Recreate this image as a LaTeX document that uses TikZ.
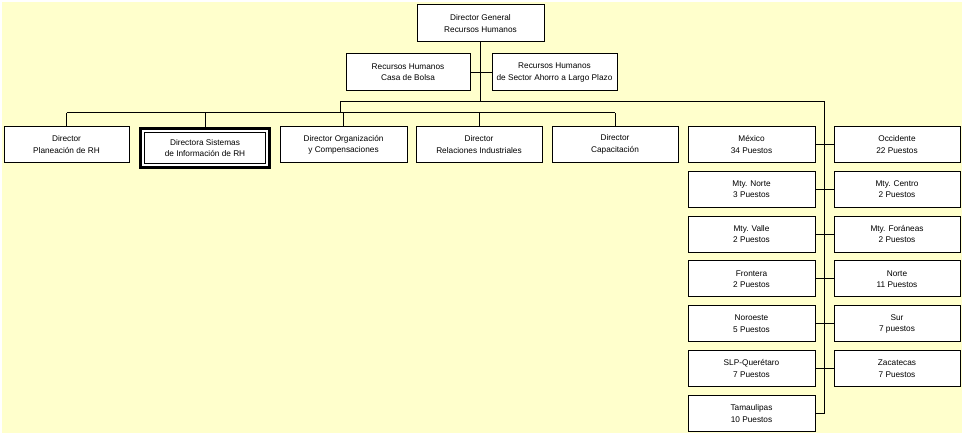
\documentclass[tikz,border=0pt]{standalone}
\usepackage{fontspec}
\setmainfont{Liberation Sans}
\usetikzlibrary{calc}

\definecolor{fondo}{HTML}{FFFFCC}

\tikzset{
    caja/.style={draw, fill=white, outer sep=0pt, inner sep=1pt, align=center,
        minimum width=#1*0.75pt, minimum height=26.5pt,
        font=\fontsize{6.2}{8.5}\selectfont},
}

\begin{document}
\begin{tikzpicture}[x=0.75pt, y=-0.75pt, line width=0.75pt]

    \useasboundingbox (0,0) rectangle (967,438);
    \fill[fondo] (2,2) rectangle (962,433);

    % -- Parte Superiore: Direccion General --
    \node[caja=127, minimum height=27.75pt] (dg) at (480.5,23.5) {Director General\\Recursos Humanos};
    \node[caja=124, minimum height=27.75pt] (casa) at (408,72.5) {Recursos Humanos\\Casa de Bolsa};
    \node[caja=125, minimum height=27.75pt] (sector) at (554.5,72.5) {Recursos Humanos\\de Sector Ahorro a Largo Plazo};

    \coordinate (b1) at (340,102);
    \coordinate (b1e) at (824,102);
    \coordinate (b2) at (340,113);

    \draw (dg.south) -- (dg.south |- b1);
    \draw (casa.east) -- (sector.west);

    % -- Directores --
    \node[caja=125] (planea) at (66.5,144.5) {Director\\Planeación de RH};
    \node[caja=128.7, minimum height=29pt, line width=2.25pt] (sistemas) at (205,148) {Directora Sistemas\\de Información de RH};
    \draw ($(sistemas.north west)+(3.6,3.4)$) rectangle ($(sistemas.south east)+(-3.6,-3.4)$);
    \node[caja=127] (organiza) at (343.5,144.5) {Director Organización\\y Compensaciones};
    \node[caja=126] (relac) at (479,144.5) {Director\\Relaciones Industriales};
    \node[caja=126] (capac) at (615,144.5) {Director\\Capacitación};

    \draw (b1) -- (b2);
    \draw (planea.north |- b2) -- (capac.north |- b2);
    \foreach \n in {planea,sistemas,organiza,relac,capac}
        \draw (\n.north |- b2) -- (\n.north);

    % -- Parte Destra: Regiones --
    \foreach \txt [count=\i] in {{México\\34 Puestos}, {Mty. Norte\\3 Puestos},
            {Mty. Valle\\2 Puestos}, {Frontera\\2 Puestos}, {Noroeste\\5 Puestos},
            {SLP-Querétaro\\7 Puestos}, {Tamaulipas\\10 Puestos}}
        \node[caja=127, minimum height=27pt] (izq\i) at (751.5,{144.5+44.83*(\i-1)}) {\txt};

    \foreach \txt [count=\i] in {{Occidente\\22 Puestos}, {Mty. Centro\\2 Puestos},
            {Mty. Foráneas\\2 Puestos}, {Norte\\11 Puestos}, {Sur\\7 puestos},
            {Zacatecas\\7 Puestos}}
        \node[caja=126, minimum height=27pt] (der\i) at (897,{144.5+44.83*(\i-1)}) {\txt};

    \draw (b1) -- (b1e) |- (izq7.east);
    \foreach \i in {1,...,6}
        \draw (izq\i.east) -- (der\i.west);

\end{tikzpicture}
\end{document}
